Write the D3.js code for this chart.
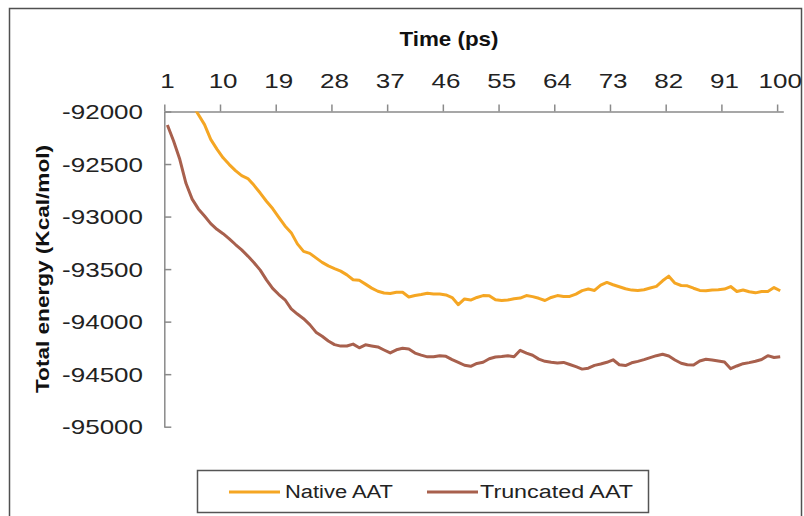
<!DOCTYPE html>
<html><head><meta charset="utf-8">
<script src="https://cdn.jsdelivr.net/npm/d3@7"></script>
<style>body{margin:0;background:#fff}svg{display:block}</style>
</head><body><div id="chart"></div>
<script>
const categories = d3.range(1, 101);
const xTickLabels = [1, 10, 19, 28, 37, 46, 55, 64, 73, 82, 91, 100];
const yTicks = [-92000, -92500, -93000, -93500, -94000, -94500, -95000];
const seriesNames = ["Native AAT", "Truncated AAT"];
const nativeAAT = [-91548,-91643,-91739,-91834,-91931,-92028,-92125,-92265,-92358,-92441,
-92505,-92562,-92610,-92638,-92703,-92776,-92854,-92924,-93007,-93089,
-93153,-93260,-93331,-93350,-93393,-93436,-93469,-93495,-93519,-93555,
-93601,-93607,-93643,-93681,-93711,-93728,-93732,-93721,-93721,-93765,
-93752,-93742,-93730,-93736,-93738,-93746,-93771,-93839,-93784,-93795,
-93770,-93752,-93753,-93792,-93799,-93794,-93782,-93776,-93752,-93762,
-93778,-93799,-93770,-93752,-93760,-93760,-93738,-93705,-93690,-93703,
-93653,-93627,-93649,-93668,-93687,-93700,-93703,-93697,-93680,-93664,
-93611,-93567,-93634,-93656,-93659,-93682,-93703,-93706,-93699,-93697,
-93690,-93666,-93713,-93699,-93716,-93726,-93713,-93713,-93676,-93706];
const truncatedAAT = [-92128,-92280,-92455,-92683,-92834,-92927,-92994,-93067,-93121,-93163,
-93212,-93266,-93317,-93376,-93439,-93510,-93602,-93684,-93742,-93792,
-93879,-93928,-93972,-94028,-94100,-94139,-94184,-94219,-94233,-94232,
-94214,-94249,-94221,-94231,-94241,-94270,-94298,-94268,-94253,-94260,
-94299,-94319,-94335,-94335,-94324,-94330,-94361,-94387,-94415,-94425,
-94398,-94386,-94353,-94336,-94331,-94324,-94334,-94273,-94300,-94320,
-94357,-94378,-94387,-94394,-94388,-94408,-94429,-94452,-94443,-94416,
-94403,-94387,-94363,-94410,-94418,-94392,-94378,-94362,-94343,-94324,
-94310,-94327,-94365,-94396,-94411,-94412,-94374,-94358,-94365,-94375,
-94385,-94448,-94422,-94400,-94390,-94377,-94360,-94324,-94341,-94334];
const colors = ["#F5A623", "#A8604D"];

const W = 804, H = 516;
const svg = d3.select("#chart").append("svg").attr("width", W).attr("height", H)
  .style("font-family", "'Liberation Sans', Arial, sans-serif");

// outer border
svg.append("rect").attr("x", 9.5).attr("y", 8.5).attr("width", 792).attr("height", 540)
  .attr("fill", "none").attr("stroke", "#505050").attr("stroke-width", 1.5);

const L = 164.3, R = 783.3, T = 111.5, B = 426.7;
const x = d3.scaleLinear().domain([0.5, 100.5]).range([L, R]);
const y = d3.scaleLinear().domain([-95000, -92000]).range([B, T]);

svg.append("clipPath").attr("id", "clip").append("rect")
  .attr("x", L).attr("y", T).attr("width", R - L).attr("height", B - T);

const axisColor = "#8a8a8a";
// left axis (ticks inside)
const ga = svg.append("g").attr("transform", `translate(${L},0)`)
  .call(d3.axisLeft(y).tickValues(yTicks).tickSizeInner(-7).tickSizeOuter(0).tickFormat(""));
ga.select(".domain").attr("stroke", axisColor).attr("stroke-width", 1.5);
ga.selectAll(".tick line").attr("stroke", axisColor).attr("stroke-width", 1.5);

// top axis (ticks at category boundaries)
const boundaries = d3.range(0, 12).map(k => 0.5 + 9 * k);
const gt = svg.append("g").attr("transform", `translate(0,${T})`)
  .call(d3.axisTop(x).tickValues(boundaries).tickSizeInner(7).tickSizeOuter(0).tickFormat(""));
gt.select(".domain").attr("stroke", axisColor).attr("stroke-width", 1.5);
gt.selectAll(".tick line").attr("stroke", axisColor).attr("stroke-width", 1.5);

// y labels
const sx = 1.3;
yTicks.forEach(v => {
  svg.append("g").attr("transform", `translate(143,${y(v) + 7.5}) scale(${sx},1)`)
    .append("text").attr("text-anchor", "end").attr("font-size", 20).attr("fill", "#222")
    .text(v);
});
// x labels
xTickLabels.forEach(c => {
  svg.append("g").attr("transform", `translate(${x(c)},88) scale(${sx},1)`)
    .append("text").attr("text-anchor", "middle").attr("font-size", 20).attr("fill", "#222")
    .text(c);
});

// titles
svg.append("text").attr("x", 449).attr("y", 46).attr("text-anchor", "middle")
  .attr("font-size", 21).attr("font-weight", "bold").attr("fill", "#111")
  .attr("textLength", 99).attr("lengthAdjust", "spacingAndGlyphs").text("Time (ps)");
svg.append("text").attr("transform", "translate(49,269) rotate(-90)").attr("text-anchor", "middle")
  .attr("font-size", 19).attr("font-weight", "bold").attr("fill", "#111")
  .attr("textLength", 248).attr("lengthAdjust", "spacingAndGlyphs").text("Total energy (Kcal/mol)");

// lines
const line = d3.line().x((d, i) => x(categories[i])).y(d => y(d));
const plot = svg.append("g").attr("clip-path", "url(#clip)");
[nativeAAT, truncatedAAT].forEach((s, k) => {
  plot.append("path").datum(s).attr("d", line).attr("fill", "none")
    .attr("stroke", colors[k]).attr("stroke-width", 3).attr("stroke-linejoin", "round");
});

// legend
svg.append("rect").attr("x", 197.5).attr("y", 470.5).attr("width", 451).attr("height", 42)
  .attr("fill", "#fff").attr("stroke", "#555").attr("stroke-width", 1.5);
const legX = [[229, 280, 285, 108], [427, 478, 480, 153]];
seriesNames.forEach((n, k) => {
  const [x1, x2, tx, tl] = legX[k];
  svg.append("line").attr("x1", x1).attr("x2", x2).attr("y1", 492).attr("y2", 492)
    .attr("stroke", colors[k]).attr("stroke-width", 3);
  svg.append("text").attr("x", tx).attr("y", 497.5).attr("font-size", 18).attr("fill", "#222")
    .attr("textLength", tl).attr("lengthAdjust", "spacingAndGlyphs").text(n);
});
</script></body></html>
